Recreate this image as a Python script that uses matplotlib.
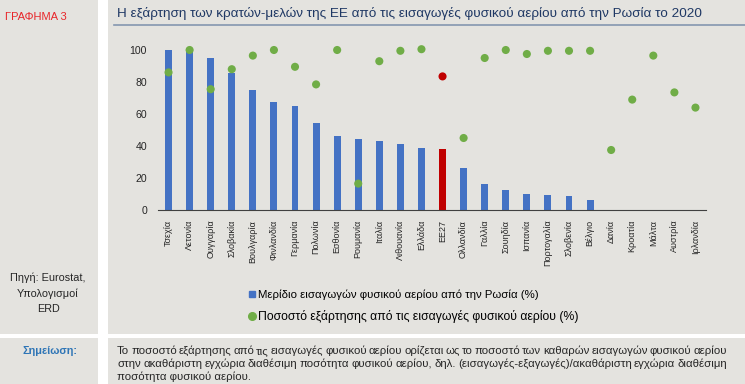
import matplotlib
matplotlib.use('Agg')
import matplotlib.pyplot as plt
from matplotlib.patches import Rectangle
from matplotlib.lines import Line2D
import numpy as np

plt.rcParams['font.family'] = ['Liberation Sans', 'DejaVu Sans']

# data
countries = ['Τσεχία', 'Λετονία', 'Ουγγαρία', 'Σλοβακία', 'Βουλγαρία', 'Φινλανδία',
             'Γερμανία', 'Πολωνία', 'Εσθονία', 'Ρουμανία', 'Ιταλία', 'Λιθουανία',
             'Ελλάδα', 'ΕΕ27', 'Ολλανδία', 'Γαλλία', 'Σουηδία', 'Ισπανία',
             'Πορτογαλία', 'Σλοβενία', 'Βέλγιο', 'Δανία', 'Κροατία', 'Μάλτα',
             'Αυστρία', 'Ιρλανδία']
share_russia = [100, 100, 95, 85.5, 75, 67.5, 65, 54.5, 46, 44.5, 43, 41.5,
                39, 38, 26.5, 16.5, 12.5, 10, 9.5, 8.5, 6, 0, 0, 0, 0, 0]
dependence = [86, 100, 75.5, 88, 96.5, 100, 89.5, 78.5, 100, 16.5, 93, 99.5,
              100.5, 83.5, 45, 95, 100, 97.5, 99.5, 99.5, 99.5, 37.5, 69, 96.5,
              73.5, 64]
highlight = 'ΕΕ27'

W, H = 745, 384
fig = plt.figure(figsize=(W / 100, H / 100), dpi=100, facecolor='white')

panel = '#e4e3df'
def box(x0, y0, x1, y1):
    fig.patches.append(Rectangle((x0 / W, 1 - y1 / H), (x1 - x0) / W, (y1 - y0) / H,
                                 transform=fig.transFigure, facecolor=panel,
                                 edgecolor='none', zorder=-10))
box(0, 0, 98, 334)
box(108, 0, 745, 334)
box(0, 338, 98, 384)
box(108, 338, 745, 384)

# header
fig.text(5 / W, 1 - 17 / H, 'ΓΡΑΦΗΜΑ 3', color='#e8262a', fontsize=8, va='center')
fig.text(117 / W, 1 - 14 / H,
         'Η εξάρτηση των κρατών-μελών της ΕΕ από τις εισαγωγές φυσικού αερίου από την Ρωσία το 2020',
         color='#1f3864', fontsize=9.7, va='center')
fig.add_artist(Line2D([114 / W, 1], [1 - 25 / H, 1 - 25 / H], transform=fig.transFigure,
                      color='#8497b0', lw=1.2))

# source
fig.text(48 / W, 1 - 293 / H, 'Πηγή: Eurostat,\nΥπολογισμοί\nERD', ha='center', va='center',
         fontsize=7.8, color='#262626', linespacing=1.65)

# main chart
ax = fig.add_axes([158 / W, 1 - 210 / H, 548 / W, 160 / H])
ax.set_facecolor('none')
x = np.arange(len(countries))
bar_colors = ['#c00000' if c == highlight else '#4472c4' for c in countries]
dot_colors = ['#c00000' if c == highlight else '#70ad47' for c in countries]
ax.bar(x, share_russia, width=0.33, color=bar_colors, zorder=2)
ax.scatter(x, dependence, s=34, c=dot_colors, zorder=3, clip_on=False, linewidths=0)
ax.set_xlim(-0.5, len(countries) - 0.5)
ax.set_ylim(0, 100)
ax.set_yticks([0, 20, 40, 60, 80, 100])
ax.tick_params(axis='y', length=0, labelsize=7.6, labelcolor='#262626', pad=8)
ax.set_xticks(x)
ax.set_xticklabels(countries, rotation=90, fontsize=6.5, color='#262626')
ax.tick_params(axis='x', length=0, pad=7)
for s in ['top', 'right', 'left']:
    ax.spines[s].set_visible(False)
ax.spines['bottom'].set_color('#404040')

# legend
handles = [Line2D([], [], marker='s', ls='none', color='#4472c4', markersize=4.5),
           Line2D([], [], marker='o', ls='none', color='#70ad47', markersize=5.5)]
labels = ['Μερίδιο εισαγωγών φυσικού αερίου από την Ρωσία (%)',
          'Ποσοστό εξάρτησης από τις εισαγωγές φυσικού αερίου (%)']
leg = fig.legend(handles, labels, loc='upper left', bbox_to_anchor=(249 / W, 1 - 289 / H),
                 frameon=False, fontsize=8.2, handlelength=0.5, handletextpad=0.3,
                 labelspacing=0.9, borderpad=0, borderaxespad=0)
leg.get_texts()[1].set_fontsize(8.8)

# note
fig.text(50 / W, 1 - 351 / H, 'Σημείωση:', ha='center', va='center', fontsize=7.8,
         color='#2e75b6', fontweight='bold')

note_lines = ['Το ποσοστό εξάρτησης από τις εισαγωγές φυσικού αερίου ορίζεται ως το ποσοστό των καθαρών εισαγωγών φυσικού αερίου',
              'στην ακαθάριστη εγχώρια διαθέσιμη ποσότητα φυσικού αερίου, δηλ. (εισαγωγές-εξαγωγές)/ακαθάριστη εγχώρια διαθέσιμη',
              'ποσότητα φυσικού αερίου.']
x0, x1 = 117, 727
fs_note = 8.2
renderer = fig.canvas.get_renderer()
for i, line in enumerate(note_lines):
    y = 1 - (351 + 12.8 * i) / H
    words = line.split()
    if i == len(note_lines) - 1:
        fig.text(x0 / W, y, line, fontsize=fs_note, color='#262626', va='center')
        continue
    arts = [fig.text(0, y, w, fontsize=fs_note, color='#262626', va='center') for w in words]
    widths = [a.get_window_extent(renderer).width for a in arts]
    gap = (x1 - x0 - sum(widths)) / (len(words) - 1)
    pos = x0
    for a, w in zip(arts, widths):
        a.set_x(pos / W)
        pos += w + gap

fig.savefig('out.png', dpi=100, facecolor='white')
